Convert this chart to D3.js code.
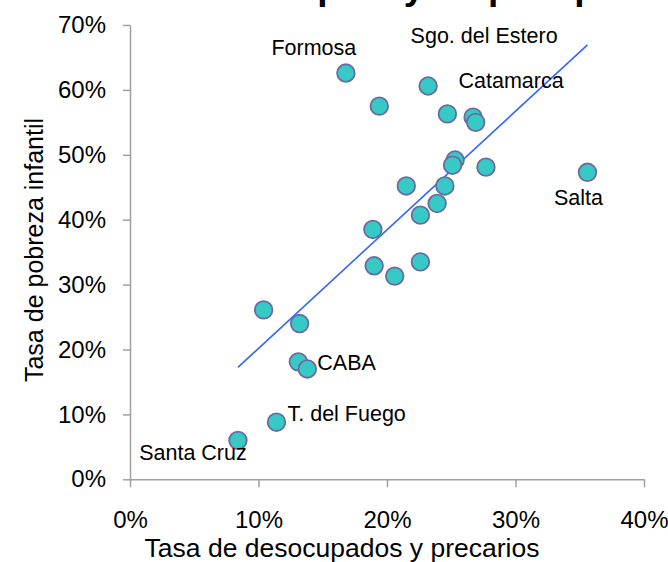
<!DOCTYPE html>
<html>
<head>
<meta charset="utf-8">
<script src="https://cdn.jsdelivr.net/npm/d3@7"></script>
<style>
    body{ margin:0; background:#fff; }
    svg{ display:block; font-family:"Liberation Sans", Arial, sans-serif; }
    .axis path, .axis line{ stroke:#a0a0a0; stroke-width:1.5; }
    .dot{ fill:#36c9c6; stroke:#6b6ba0; stroke-width:1.8; }
    .trend{ stroke:#3366ff; stroke-width:1.6; fill:none; }
</style>
</head>
<body>
<svg id="chart" width="668" height="562"></svg>
<script>

// ===============================
// DATA
// ===============================

const provincias = ["Formosa","","Sgo. del Estero","","Catamarca","","","","","Salta",
    "","","","","","","","","","","","CABA","T. del Fuego","Santa Cruz"];

const desocupados = [0.168,0.194,0.232,0.247,0.267,0.269,0.253,0.251,0.277,0.356,
    0.215,0.245,0.239,0.226,0.189,0.190,0.206,0.226,0.104,0.132,0.131,0.138,0.114,0.084];

const pobreza = [0.626,0.575,0.606,0.563,0.558,0.550,0.492,0.484,0.481,0.473,
    0.452,0.452,0.425,0.407,0.385,0.329,0.313,0.335,0.261,0.240,0.181,0.170,0.088,0.060];

const xTicks = [0,0.1,0.2,0.3,0.4];
const yTicks = [0,0.1,0.2,0.3,0.4,0.5,0.6,0.7];

const titulo = "Desempleo y empleo precario";
const xTitulo = "Tasa de desocupados y precarios";
const yTitulo = "Tasa de pobreza infantil";

// label placement (dx, dy, anchor)
const labelPos = {
    "Formosa":[-32,-26,"middle"],
    "Sgo. del Estero":[56,-51,"middle"],
    "Catamarca":[38,-37,"middle"],
    "Salta":[-9,25,"middle"],
    "CABA":[10,-6,"start"],
    "T. del Fuego":[11,-9,"start"],
    "Santa Cruz":[-45,12,"middle"]
};

// ===============================
// SCALES
// ===============================

const svg=d3.select("#chart");

const x=d3.scaleLinear().domain([0,0.4]).range([130,644]);
const y=d3.scaleLinear().domain([0,0.7]).range([479.3,25]);

const pct=d3.format(".0%");

// ===============================
// TITLE (clipped at top)
// ===============================

svg.append("text")
    .attr("x",196)
    .attr("y",-1.5)
    .attr("font-size",37)
    .attr("font-weight","bold")
    .text(titulo);

// ===============================
// AXES
// ===============================

const xAxis=svg.append("g")
    .attr("class","axis")
    .attr("transform",`translate(0,${y(0)})`)
    .call(d3.axisBottom(x).tickValues(xTicks).tickSize(8).tickSizeOuter(0).tickFormat(pct));

xAxis.selectAll("text")
    .attr("y",32)
    .attr("font-size",24)
    .attr("fill","#000");

const yAxis=svg.append("g")
    .attr("class","axis")
    .attr("transform",`translate(${x(0)},0)`)
    .call(d3.axisLeft(y).tickValues(yTicks).tickSize(7).tickSizeOuter(0).tickFormat(pct));

yAxis.selectAll("text")
    .attr("x",-24)
    .attr("font-size",24)
    .attr("fill","#000");

svg.selectAll(".domain").attr("stroke","#a0a0a0");

svg.append("text")
    .attr("x",342)
    .attr("y",557)
    .attr("text-anchor","middle")
    .attr("font-size",26.5)
    .text(xTitulo);

svg.append("text")
    .attr("transform","translate(43,250) rotate(-90)")
    .attr("text-anchor","middle")
    .attr("font-size",25)
    .text(yTitulo);

// ===============================
// TREND LINE (least squares)
// ===============================

const mx=d3.mean(desocupados);
const my=d3.mean(pobreza);

let sxy=0, sxx=0;

desocupados.forEach((v,i)=>{
    sxy+=(v-mx)*(pobreza[i]-my);
    sxx+=(v-mx)*(v-mx);
});

const slope=sxy/sxx;
const intercept=my-slope*mx;
const [x0,x1]=d3.extent(desocupados);

svg.append("line")
    .attr("class","trend")
    .attr("x1",x(x0))
    .attr("y1",y(intercept+slope*x0))
    .attr("x2",x(x1))
    .attr("y2",y(intercept+slope*x1));

// ===============================
// POINTS
// ===============================

svg.selectAll(".dot")
    .data(desocupados)
    .enter()
    .append("circle")
    .attr("class","dot")
    .attr("cx",d=>x(d))
    .attr("cy",(d,i)=>y(pobreza[i]))
    .attr("r",8.8);

// ===============================
// LABELS
// ===============================

provincias.forEach((name,i)=>{

    if(!name) return;

    const p=labelPos[name];

    svg.append("text")
        .attr("x",x(desocupados[i])+p[0])
        .attr("y",y(pobreza[i])+p[1])
        .attr("dy","0.35em")
        .attr("text-anchor",p[2])
        .attr("font-size",21.5)
        .text(name);

});

</script>
</body>
</html>
